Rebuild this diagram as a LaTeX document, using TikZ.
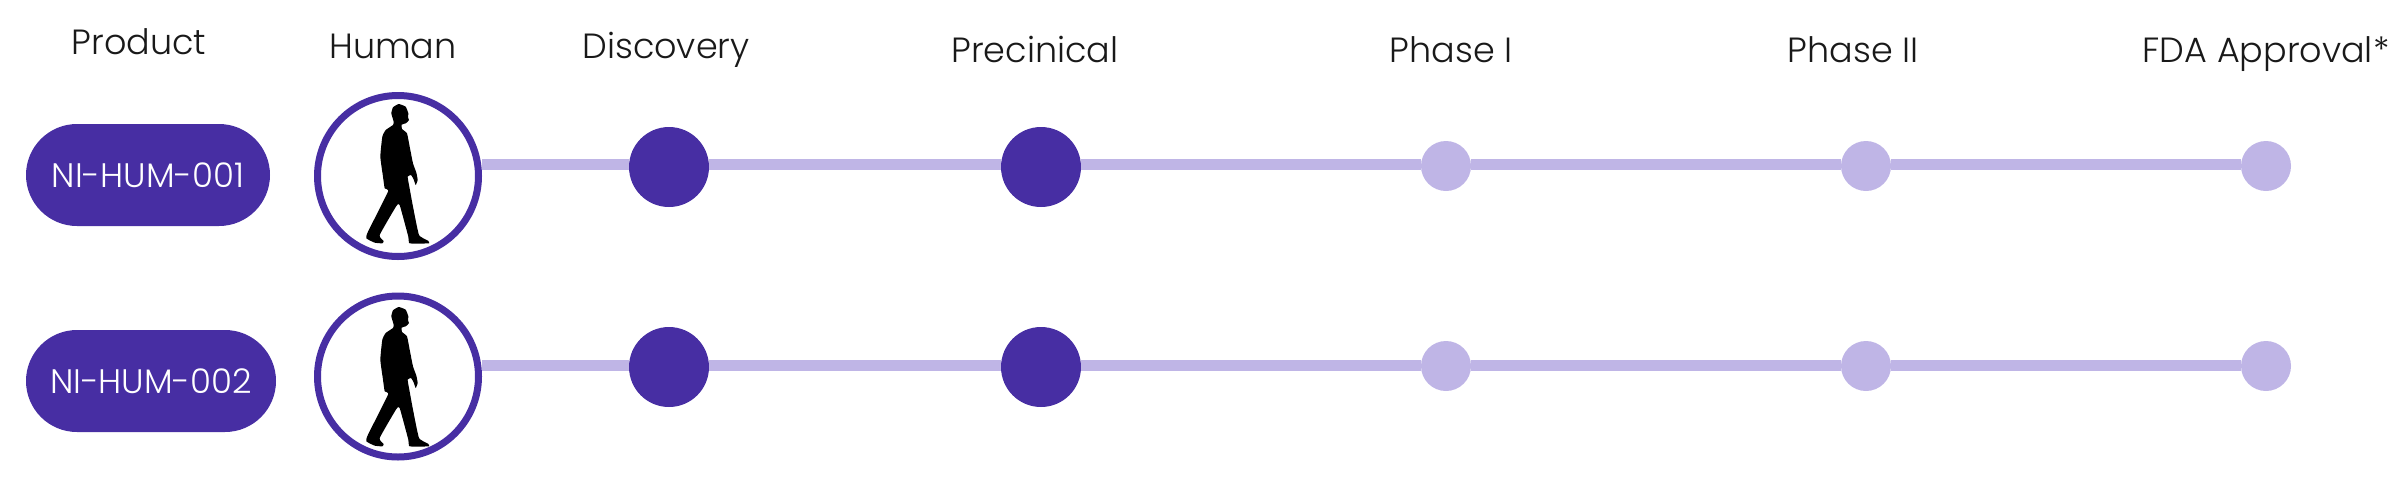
\documentclass[tikz,border=0pt]{standalone}
\usepackage{fontspec}
\setmainfont{Poppins Light}
\usetikzlibrary{shapes.misc}
\definecolor{deep}{RGB}{71,46,163}
\definecolor{pale}{RGB}{191,181,230}
\tikzset{
  x=1pt,y=-1pt,
  head/.style={anchor=base,inner sep=0,font=\fontsize{35}{40}\selectfont,text=black!90},
  pill/.style={rounded rectangle,fill=deep,text=white,minimum height=102pt,inner sep=0,outer sep=0,font=\fontsize{34}{40}\selectfont},
  ring/.style={circle,draw=deep,line width=7pt,fill=white,minimum size=161pt,inner sep=0,outer sep=0},
  bigdot/.style={circle,fill=deep,minimum size=80pt,inner sep=0,outer sep=0},
  smalldot/.style={circle,fill=pale,minimum size=50pt,inner sep=0,outer sep=0},
  track/.style={draw=pale,line width=11pt},
  walker/.pic={
    \fill[black,scale=1/3,shift={(-295,-288)}] plot[smooth cycle,tension=0.25] coordinates {
      (297,72) (318,80) (326,100) (325,112) (328,120) (322,127) (318,130) (306,134) (307,147) (322,160)
      (330,200) (340,250) (350,278) (354,300) (348,315) (342,298) (334,285) (324,290) (328,315) (340,380)
      (358,465) (385,482) (388,490) (330,490) (326,470) (300,375) (290,378) (240,465) (252,483) (248,490)
      (225,488) (200,475) (205,455) (265,335) (255,325) (250,290) (242,230) (248,170) (258,150) (280,135)
      (282,125) (275,100) (280,82)};
  }
}
\begin{document}
\begin{tikzpicture}
\useasboundingbox (0,0) rectangle (2407,480);
\node[head] (tproduct) at (139,54) {Product};
\node[head] (thuman) at (393,58) {Human};
\node[head] (tdisc) at (666,58) {Discovery};
\node[head] (tprec) at (1035,62) {Precinical};
\node[head] (tp1) at (1451,62) {Phase I};
\node[head] (tp2) at (1853,62) {Phase II};
\node[head] (tfda) at (2266,62) {FDA Approval*};
\node[pill,minimum width=244pt] (p1) at (148,175) {\raisebox{-2pt}{NI-HUM-001}};
\node[pill,minimum width=250pt] (p2) at (151,381) {NI-HUM-002};
\node[ring] (h1) at (398,176) {};
\node[ring] (h2) at (398,376.5) {};
\pic at (398,176) {walker};
\pic at (398,379) {walker};
\coordinate (l1) at (0,164);
\coordinate (l2) at (0,365);
\foreach \r/\y/\yy in {1/167/166,2/367/366}{
  \node[bigdot] (d\r) at (669,\y) {};
  \node[bigdot] (e\r) at (1041,\y) {};
  \node[smalldot] (f\r) at (1446,\yy) {};
  \node[smalldot] (g\r) at (1866,\yy) {};
  \node[smalldot] (k\r) at (2266,\yy) {};
  \draw[track] ([xshift=3.5pt]h\r.east |- l\r) -- (d\r.west |- l\r);
  \draw[track] (d\r.east |- l\r) -- (e\r.west |- l\r);
  \draw[track] (e\r.east |- l\r) -- (f\r.west |- l\r);
  \draw[track] (f\r.east |- l\r) -- (g\r.west |- l\r);
  \draw[track] (g\r.east |- l\r) -- (k\r.west |- l\r);
}
\end{tikzpicture}
\end{document}
